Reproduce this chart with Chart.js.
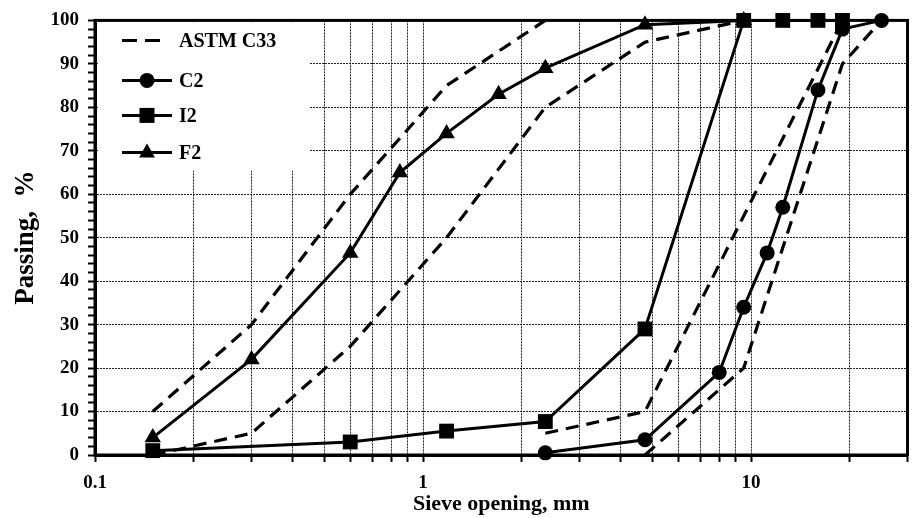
<!DOCTYPE html>
<html>
<head>
<meta charset="utf-8">
<script src="https://cdn.jsdelivr.net/npm/chart.js@4/dist/chart.umd.min.js"></script>
<style>
  html, body { margin: 0; padding: 0; background: #fff; }
  #wrap { position: relative; width: 918px; height: 518px; }
</style>
</head>
<body>
<div id="wrap"><canvas id="c" width="918" height="518"></canvas></div>
<script>
// ---- Data ----
const astmFineUpperX = [0.15, 0.3, 0.6, 1.18, 2.36];
const astmFineUpperY = [10, 30, 60, 85, 100];
const astmFineLowerX = [0.15, 0.3, 0.6, 1.18, 2.36, 4.75, 9.5];
const astmFineLowerY = [0, 5, 25, 50, 80, 95, 100];
const astmCoarseUpperX = [2.36, 4.75, 9.5, 19];
const astmCoarseUpperY = [5, 10, 55, 100];
const astmCoarseLowerX = [4.75, 9.5, 19, 25];
const astmCoarseLowerY = [0, 20, 90, 100];

const c2X = [2.36, 4.75, 8, 9.5, 11.2, 12.5, 16, 19, 25];
const c2Y = [0.5, 3.5, 19, 34, 46.5, 57, 84, 98, 100];
const i2X = [0.15, 0.6, 1.18, 2.36, 4.75, 9.5, 12.5, 16, 19];
const i2Y = [1, 3, 5.5, 7.7, 29, 100, 100, 100, 100];
const f2X = [0.15, 0.3, 0.6, 0.85, 1.18, 1.7, 2.36, 4.75, 9.5];
const f2Y = [4, 22, 46.5, 65, 74, 83, 89, 99, 100];

const xTickValues = [0.1,0.2,0.3,0.4,0.5,0.6,0.7,0.8,0.9,1,2,3,4,5,6,7,8,9,10,20,30];
const xTickLabels = [0.1, 1, 10];
const legendLabels = ['ASTM C33', 'C2', 'I2', 'F2'];

const pts = (xs, ys) => xs.map((x, i) => ({x: x, y: ys[i]}));
const FONT = '"Liberation Serif", "Times New Roman", serif';

const dashed = (label, xs, ys) => ({
  label: label, data: pts(xs, ys), borderColor: '#000', borderWidth: 3.2,
  borderDash: [13, 8], pointRadius: 0, fill: false, clip: false, tension: 0
});
const solid = (label, xs, ys, style, r) => ({
  label: label, data: pts(xs, ys), borderColor: '#000', backgroundColor: '#000',
  borderWidth: 3, pointStyle: style, pointRadius: r, pointBorderWidth: 0,
  pointBackgroundColor: '#000', fill: false, clip: false, tension: 0
});

const legendPlugin = {
  id: 'boxLegend',
  beforeDatasetsDraw(chart) {
    const ctx = chart.ctx, a = chart.chartArea;
    ctx.save();
    ctx.fillStyle = '#fff';
    ctx.fillRect(a.left + 3, a.top + 2, 212, 148);
    // frame of plot area
    ctx.strokeStyle = '#000';
    ctx.lineWidth = 3;
    ctx.strokeRect(a.left, a.top, a.right - a.left, a.bottom - a.top);
    const rows = [20, 60, 95, 132].map(v => a.top + v);
    const lx0 = a.left + 27, lx1 = a.left + 77, mx = a.left + 52, tx = a.left + 84;
    ctx.lineWidth = 3;
    ctx.setLineDash([15, 8]);
    ctx.beginPath(); ctx.moveTo(lx0, rows[0]); ctx.lineTo(lx0 + 38, rows[0]); ctx.stroke();
    ctx.setLineDash([]);
    for (let i = 1; i < 4; i++) {
      ctx.beginPath(); ctx.moveTo(lx0, rows[i]); ctx.lineTo(lx1, rows[i]); ctx.stroke();
    }
    ctx.fillStyle = '#000';
    ctx.beginPath(); ctx.arc(mx, rows[1], 7.5, 0, Math.PI * 2); ctx.fill();
    ctx.fillRect(mx - 7.5, rows[2] - 7.5, 15, 15);
    ctx.beginPath();
    ctx.moveTo(mx, rows[3] - 9); ctx.lineTo(mx + 8, rows[3] + 5); ctx.lineTo(mx - 8, rows[3] + 5);
    ctx.closePath(); ctx.fill();
    ctx.font = 'bold 20px ' + FONT;
    ctx.textBaseline = 'middle';
    ctx.textAlign = 'left';
    legendLabels.forEach((t, i) => ctx.fillText(t, tx, rows[i] + 1));
    ctx.restore();
  }
};

new Chart(document.getElementById('c'), {
  type: 'line',
  data: {
    datasets: [
      solid('C2', c2X, c2Y, 'circle', 7.5),
      solid('I2', i2X, i2Y, 'rect', 10.5),
      solid('F2', f2X, f2Y, 'triangle', 9.5),
      dashed('ASTM C33', astmFineUpperX, astmFineUpperY),
      dashed('ASTM C33 fine lower', astmFineLowerX, astmFineLowerY),
      dashed('ASTM C33 coarse upper', astmCoarseUpperX, astmCoarseUpperY),
      dashed('ASTM C33 coarse lower', astmCoarseLowerX, astmCoarseLowerY)
    ]
  },
  options: {
    responsive: false,
    animation: false,
    devicePixelRatio: 1,
    layout: { padding: { top: 15, right: 7, left: 0, bottom: 0 } },
    plugins: { legend: { display: false }, tooltip: { enabled: false } },
    scales: {
      x: {
        type: 'logarithmic', min: 0.1, max: 30,
        afterBuildTicks: (s) => { s.ticks = xTickValues.map(v => ({ value: v })); },
        afterFit: (s) => { s.height = 63; },
        ticks: {
          autoSkip: false, maxRotation: 0, padding: 10, color: '#000',
          font: { family: FONT, size: 19, weight: 'bold' },
          callback: (v) => xTickLabels.includes(v) ? String(v) : ''
        },
        grid: { color: '#222', lineWidth: 1, tickColor: '#000', tickWidth: 2, tickLength: 7 },
        border: { display: true, color: '#000', width: 3, dash: [2, 1] },
        title: {
          display: true, text: 'Sieve opening, mm', color: '#000',
          font: { family: FONT, size: 22, weight: 'bold' }, padding: { top: 0, bottom: 0 }
        }
      },
      y: {
        min: 0, max: 100,
        afterFit: (s) => { s.width = 95; },
        ticks: {
          stepSize: 2, autoSkip: false, padding: 9, color: '#000',
          font: { family: FONT, size: 19, weight: 'bold' },
          callback: (v) => (v % 10 === 0 ? String(v) : '')
        },
        grid: {
          color: (c) => (c.tick && c.tick.value % 10 === 0 ? '#222' : 'rgba(0,0,0,0)'),
          lineWidth: 1, tickColor: '#000', tickWidth: 2, tickLength: 7
        },
        border: { display: true, color: '#000', width: 3, dash: [2, 1] },
        title: {
          display: true, text: 'Passing,  %', color: '#000',
          font: { family: FONT, size: 27, weight: 'bold' }, padding: { top: 10, bottom: 0 }
        }
      }
    }
  },
  plugins: [legendPlugin]
});
</script>
</body>
</html>
